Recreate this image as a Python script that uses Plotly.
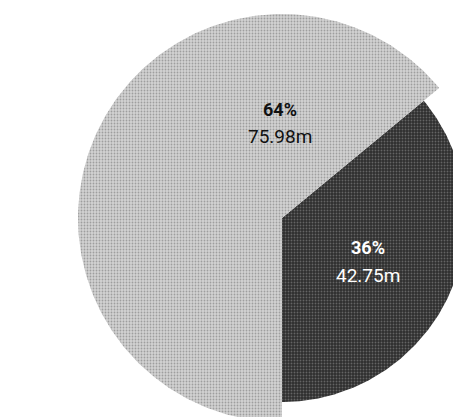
import numpy as np
import plotly.graph_objects as go

# ---- data ----
categories = ["Segment A", "Segment B"]
values = [42.75, 75.98]          # millions
unit_suffix = "m"

# ---- style constants ----
PAGE_OFFSET = 8                  # browser body margin
W, H = 461 - PAGE_OFFSET, 417 - PAGE_OFFSET
CX, CY = 282 - PAGE_OFFSET, 218 - PAGE_OFFSET   # pie centre in figure px (from top-left)
SLICE_RADII = [184, 204]         # outer radius of each slice (px units)
START_ANGLE = -90                # first slice starts at 6 o'clock, counter-clockwise
COLORS_BG = ["#2e2e2e", "#d2d2d2"]
COLORS_FG = ["#9a9a9a", "#6a6a6a"]
TEXT_COLORS = ["#ffffff", "#111111"]
LABEL_POS = [(368, 247, 275), (280, 109, 136)]  # page px: x, y of pct line, y of value line

total = sum(values)

fig = go.Figure()
acc = START_ANGLE
for i, v in enumerate(values):
    sweep = v / total * 360
    ang = np.radians(np.linspace(acc, acc + sweep, 240))
    r = SLICE_RADII[i]
    xs = np.concatenate([[0], r * np.cos(ang), [0]])
    ys = np.concatenate([[0], r * np.sin(ang), [0]])
    fig.add_trace(go.Scatter(
        x=xs, y=ys, mode="lines", fill="toself",
        line=dict(width=0, color=COLORS_BG[i]),
        fillcolor=COLORS_BG[i],
        fillpattern=dict(shape=".", bgcolor=COLORS_BG[i], fgcolor=COLORS_FG[i],
                         size=3, solidity=0.3, fillmode="overlay"),
        name=categories[i], hoverinfo="skip", showlegend=False,
    ))
    acc += sweep

annotations = []
for i, v in enumerate(values):
    pct = round(v / total * 100)
    x, y1, y2 = LABEL_POS[i]
    fx = x - PAGE_OFFSET - CX
    annotations.append(dict(text=f"<b>{pct}%</b>", x=fx, y=CY - (y1 - PAGE_OFFSET),
                            xref="x", yref="y", showarrow=False,
                            xanchor="center", yanchor="middle",
                            font=dict(family="Roboto", size=18, color=TEXT_COLORS[i])))
    annotations.append(dict(text=f"{v:.2f}{unit_suffix}", x=fx, y=CY - (y2 - PAGE_OFFSET),
                            xref="x", yref="y", showarrow=False,
                            xanchor="center", yanchor="middle",
                            font=dict(family="Roboto", size=19, color=TEXT_COLORS[i])))

fig.update_layout(
    width=W, height=H,
    margin=dict(l=0, r=0, t=0, b=0),
    paper_bgcolor="white",
    plot_bgcolor="white",
    xaxis=dict(range=[-CX, W - CX], visible=False, fixedrange=True),
    yaxis=dict(range=[-(H - CY), CY], visible=False, fixedrange=True),
    annotations=annotations,
)

fig.write_html("out.html")
